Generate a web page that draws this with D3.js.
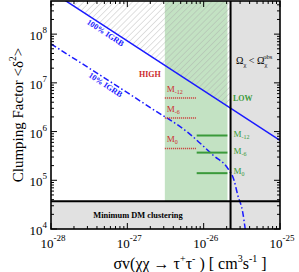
<!DOCTYPE html>
<html>
<head>
<meta charset="utf-8">
<script src="https://cdn.jsdelivr.net/npm/d3@7"></script>
<style>
  body { margin: 0; background: #fff; }
  text { font-family: "Liberation Serif", "DejaVu Serif", serif; }
</style>
</head>
<body>
<div class="chart"></div>
<script>
// data
const xTicks = [1e-28, 1e-27, 1e-26, 1e-25];
const xTickExp = ["-28", "-27", "-26", "-25"];
const yTicks = [1e4, 1e5, 1e6, 1e7, 1e8];
const yTickExp = ["4", "5", "6", "7", "8"];

const thermalSigma = 2.25e-26;      // vertical black line
const greenBand = [3.1e-27, 2.05e-26];
const minClumping = 3.7e4;          // "Minimum DM clustering"

const igrb100 = [[1e-28, 7.6e8], [1e-25, 6.6e5]];
const igrb10 = [
  [1e-28, 6.3e7], [2.0e-27, 3.1e6], [6.2e-27, 9.6e5], [1.35e-26, 3.2e5],
  [2.07e-26, 1.75e5], [2.5e-26, 1.0e5], [2.8e-26, 4.9e4], [3.25e-26, 2.2e4], [3.5e-26, 1e4]
];

const highNames = ["-12", "-6", "0"];
const highValues = [4.9e6, 1.9e6, 4.5e5];
const highSigma = [3.1e-27, 7.9e-27];

const lowNames = ["-12", "-6", "0"];
const lowValues = [8.3e5, 3.7e5, 1.4e5];
const lowSigma = [8.1e-27, 2.05e-26];

// layout
const margin = {top: 1, left: 51, bottom: 43, right: 19};
const W = 299, H = 272;
const width = W - margin.left - margin.right;
const height = H - margin.top - margin.bottom;

const svg = d3.select('.chart').append('svg')
  .attr('width', W).attr('height', H);

const x = d3.scaleLog().domain([1e-28, 1e-25]).range([margin.left, margin.left + width]);
const y = d3.scaleLog().domain([1e4, Math.pow(10, 8.68)]).range([margin.top + height, margin.top]);

const x0 = x.range()[0], x1 = x.range()[1];
const yBot = y.range()[0], yTop = y.range()[1];

// hatch pattern
const defs = svg.append('defs');
defs.append('pattern')
  .attr('id', 'hatch')
  .attr('patternUnits', 'userSpaceOnUse')
  .attr('width', 4.3).attr('height', 4.3)
  .attr('patternTransform', 'rotate(45)')
  .append('line')
  .attr('x1', 0).attr('y1', 0).attr('x2', 0).attr('y2', 4.3)
  .attr('stroke', '#a8a8a8').attr('stroke-width', 0.7);

defs.append('clipPath').attr('id', 'plotclip')
  .append('rect')
  .attr('x', x0).attr('y', yTop).attr('width', x1 - x0).attr('height', yBot - yTop);

const plot = svg.append('g').attr('clip-path', 'url(#plotclip)');

// green band
plot.append('rect')
  .attr('x', x(greenBand[0])).attr('y', yTop)
  .attr('width', x(greenBand[1]) - x(greenBand[0]))
  .attr('height', y(minClumping) - yTop)
  .attr('fill', '#c3e2c3');

// grey excluded region (right of thermal line)
plot.append('rect')
  .attr('x', x(thermalSigma)).attr('y', yTop)
  .attr('width', x1 - x(thermalSigma)).attr('height', yBot - yTop)
  .attr('fill', '#e1e1e1');

// minimum clustering region
plot.append('rect')
  .attr('x', x0).attr('y', y(minClumping))
  .attr('width', x1 - x0).attr('height', yBot - y(minClumping))
  .attr('fill', '#e1e1e1');

// hatched area above 100% IGRB
const lineVal = s => {
  const [a, b] = igrb100;
  const t = (Math.log10(s) - Math.log10(a[0])) / (Math.log10(b[0]) - Math.log10(a[0]));
  return Math.pow(10, Math.log10(a[1]) + t * (Math.log10(b[1]) - Math.log10(a[1])));
};
const hatchPoly = [
  [x(igrb100[0][0]), y(igrb100[0][1])],
  [x(thermalSigma), y(lineVal(thermalSigma))],
  [x(thermalSigma), yTop - 5],
  [x(igrb100[0][0]), yTop - 5]
];
plot.append('path')
  .attr('d', d3.line()(hatchPoly) + 'Z')
  .attr('fill', 'url(#hatch)');

// thermal relic line
svg.append('line')
  .attr('x1', x(thermalSigma)).attr('x2', x(thermalSigma))
  .attr('y1', yTop).attr('y2', yBot)
  .attr('stroke', '#000').attr('stroke-width', 2);

// minimum clustering line
svg.append('line')
  .attr('x1', x0).attr('x2', x1)
  .attr('y1', y(minClumping)).attr('y2', y(minClumping))
  .attr('stroke', '#000').attr('stroke-width', 2);

// IGRB lines
const line = d3.line().x(d => x(d[0])).y(d => y(d[1]));
plot.append('path').datum(igrb100)
  .attr('d', line).attr('fill', 'none')
  .attr('stroke', '#1a1aff').attr('stroke-width', 1.5);
plot.append('path').datum(igrb10)
  .attr('d', line.curve(d3.curveMonotoneX)).attr('fill', 'none')
  .attr('stroke', '#1a1aff').attr('stroke-width', 1.5)
  .attr('stroke-dasharray', '6,2.5,1.5,2.5');

// HIGH (red dotted) and LOW (green) mass levels
const red = '#cc2b2b', green = '#3a9a3a';
highValues.forEach((v, i) => {
  svg.append('line')
    .attr('x1', x(highSigma[0])).attr('x2', x(highSigma[1]))
    .attr('y1', y(v)).attr('y2', y(v))
    .attr('stroke', red).attr('stroke-width', 1.5)
    .attr('stroke-dasharray', '1,1');
  const t = svg.append('text')
    .attr('x', x(highSigma[0]) + 2).attr('y', y(v) - 6)
    .attr('fill', red).attr('font-size', 9);
  t.append('tspan').text('M');
  t.append('tspan').attr('dy', 2).attr('font-size', 6).text(highNames[i]);
});
lowValues.forEach((v, i) => {
  svg.append('line')
    .attr('x1', x(lowSigma[0])).attr('x2', x(lowSigma[1]))
    .attr('y1', y(v)).attr('y2', y(v))
    .attr('stroke', green).attr('stroke-width', 2);
  const t = svg.append('text')
    .attr('x', x(thermalSigma) + 3).attr('y', y(v) + 1)
    .attr('fill', green).attr('font-size', 9);
  t.append('tspan').text('M');
  t.append('tspan').attr('dy', 2).attr('font-size', 6).text(lowNames[i]);
});
svg.append('text')
  .attr('x', 139).attr('y', 77)
  .attr('fill', red).attr('font-size', 8).attr('font-weight', 'bold')
  .text('HIGH');
svg.append('text')
  .attr('x', 233).attr('y', 101)
  .attr('fill', green).attr('font-size', 8).attr('font-weight', 'bold')
  .text('LOW');

// rotated IGRB labels
const angle = Math.atan2(y(igrb100[1][1]) - y(igrb100[0][1]), x(igrb100[1][0]) - x(igrb100[0][0])) * 180 / Math.PI;
svg.append('text')
  .attr('transform', `translate(104,35) rotate(${angle})`)
  .attr('text-anchor', 'middle')
  .attr('fill', '#1a1aff').attr('font-size', 8).attr('font-weight', 'bold')
  .text('100% IGRB');
svg.append('text')
  .attr('transform', `translate(104,87) rotate(${angle})`)
  .attr('text-anchor', 'middle')
  .attr('fill', '#1a1aff').attr('font-size', 8).attr('font-weight', 'bold')
  .text('10% IGRB');

// Omega label
const om = svg.append('text').attr('x', 236).attr('y', 64).attr('font-size', 10);
om.append('tspan').text('Ω');
om.append('tspan').attr('dy', 2.5).attr('font-size', 6.5).text('χ');
om.append('tspan').attr('dy', -2.5).text(' < Ω');
om.append('tspan').attr('dy', 2.5).attr('font-size', 6.5).text('χ');
om.append('tspan').attr('dx', -4).attr('dy', -8).attr('font-size', 6.5).text('obs');

// minimum clustering label
svg.append('text')
  .attr('x', 138).attr('y', 218)
  .attr('text-anchor', 'middle')
  .attr('font-size', 8.4).attr('font-weight', 'bold')
  .text('Minimum DM clustering');

// ticks on all four sides (inward)
const minorX = [], minorY = [];
for (let e = -28; e < -25; e++) for (let k = 2; k <= 9; k++) minorX.push(k * Math.pow(10, e));
for (let e = 4; e < 9; e++) for (let k = 2; k <= 9; k++) {
  const v = k * Math.pow(10, e);
  if (y(v) >= yTop) minorY.push(v);
}
const tickG = svg.append('g').attr('stroke', '#000').attr('stroke-width', 1);
xTicks.forEach(v => {
  tickG.append('line').attr('x1', x(v)).attr('x2', x(v)).attr('y1', yBot).attr('y2', yBot - 6);
  tickG.append('line').attr('x1', x(v)).attr('x2', x(v)).attr('y1', yTop).attr('y2', yTop + 6);
});
minorX.forEach(v => {
  tickG.append('line').attr('x1', x(v)).attr('x2', x(v)).attr('y1', yBot).attr('y2', yBot - 3);
  tickG.append('line').attr('x1', x(v)).attr('x2', x(v)).attr('y1', yTop).attr('y2', yTop + 3);
});
yTicks.forEach(v => {
  tickG.append('line').attr('x1', x0).attr('x2', x0 + 6).attr('y1', y(v)).attr('y2', y(v));
  tickG.append('line').attr('x1', x1).attr('x2', x1 - 6).attr('y1', y(v)).attr('y2', y(v));
});
minorY.forEach(v => {
  tickG.append('line').attr('x1', x0).attr('x2', x0 + 3).attr('y1', y(v)).attr('y2', y(v));
  tickG.append('line').attr('x1', x1).attr('x2', x1 - 3).attr('y1', y(v)).attr('y2', y(v));
});

// frame
svg.append('rect')
  .attr('x', x0).attr('y', yTop).attr('width', x1 - x0).attr('height', yBot - yTop)
  .attr('fill', 'none').attr('stroke', '#000').attr('stroke-width', 1.6);

// tick labels
xTicks.forEach((v, i) => {
  const t = svg.append('text')
    .attr('x', x(v) + 2).attr('y', yBot + 19)
    .attr('text-anchor', 'middle').attr('font-size', 13);
  t.append('tspan').text('10');
  t.append('tspan').attr('dy', -7).attr('font-size', 9).text(xTickExp[i]);
});
yTicks.forEach((v, i) => {
  const t = svg.append('text')
    .attr('x', x0 - 4).attr('y', y(v) + 6)
    .attr('text-anchor', 'end').attr('font-size', 13);
  t.append('tspan').text('10');
  t.append('tspan').attr('dy', -7).attr('font-size', 9).text(yTickExp[i]);
});

// axis titles
const xt = svg.append('text')
  .attr('x', 190).attr('y', 269)
  .attr('text-anchor', 'middle').attr('font-size', 16);
xt.append('tspan').text('σv(χχ → τ');
xt.append('tspan').attr('dy', -7).attr('font-size', 10).text('+');
xt.append('tspan').attr('dy', 7).text('τ');
xt.append('tspan').attr('dy', -7).attr('font-size', 10).text('-');
xt.append('tspan').attr('dy', 7).text(' ) [ cm');
xt.append('tspan').attr('dy', -7).attr('font-size', 10).text('3');
xt.append('tspan').attr('dy', 7).text('s');
xt.append('tspan').attr('dy', -7).attr('font-size', 10).text('-1');
xt.append('tspan').attr('dy', 7).text(' ]');

const yt = svg.append('text')
  .attr('transform', 'translate(23,115) rotate(-90)')
  .attr('text-anchor', 'middle').attr('font-size', 15);
yt.append('tspan').text('Clumping Factor <δ');
yt.append('tspan').attr('dy', -7).attr('font-size', 9.5).text('2');
yt.append('tspan').attr('dy', 7).text('>');
</script>
</body>
</html>
